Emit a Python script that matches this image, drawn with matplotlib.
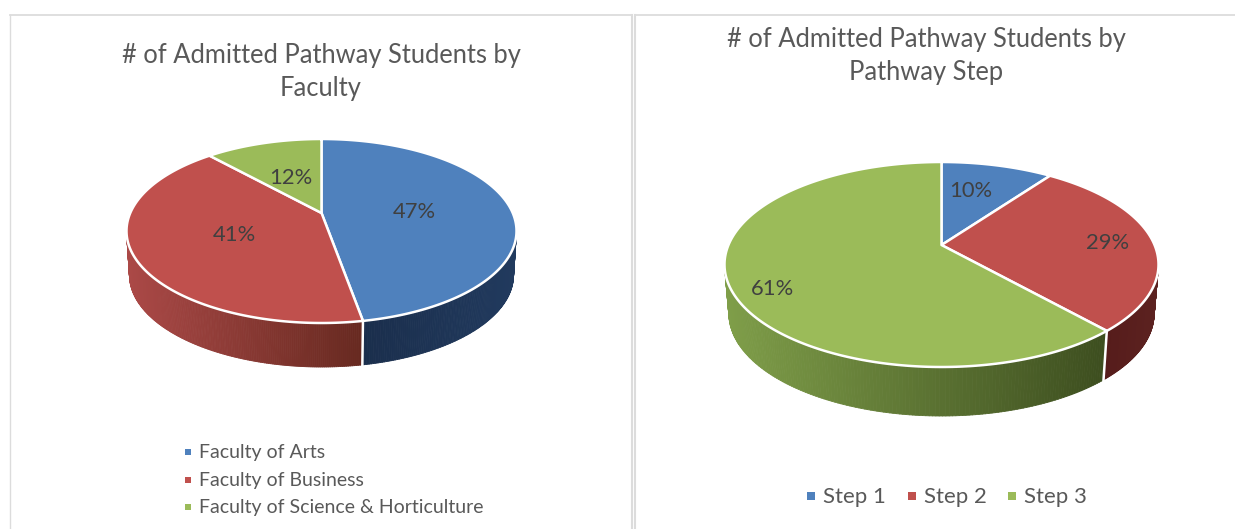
import numpy as np
import matplotlib
matplotlib.use("Agg")
import matplotlib.pyplot as plt
from matplotlib.colors import to_rgb
from matplotlib.collections import PolyCollection

plt.rcParams['font.family'] = ['Lato', 'DejaVu Sans']

# data, slice sizes, labels as printed on it
faculty_names = ['Faculty of Arts', 'Faculty of Business', 'Faculty of Science & Horticulture']
faculty_values = [47.2, 41.1, 11.7]
faculty_labels = ['47%', '41%', '12%']
step_names = ['Step 1', 'Step 2', 'Step 3']
step_values = [10.0, 28.4, 61.6]
step_labels = ['10%', '29%', '61%']

title_left = '# of Admitted Pathway Students by\nFaculty'
title_right = '# of Admitted Pathway Students by\nPathway Step'

BLUE = '#4f81bd'
RED = '#c0504d'
GREEN = '#9bbb59'
colors = [BLUE, RED, GREEN]

# wall colours, (left end, right end) of each visible stretch
walls_left = [('#1a2e4c', '#213a5e'), ('#ab4947', '#672920'), ('#000000', '#000000')]
walls_right = [('#000000', '#000000'), ('#561c1b', '#5c2220'), ('#7f9e49', '#3d4e1f')]


def project(theta, cx, cy, rx, ry, a):
    # clockwise from 12 o'clock, tilted disc so the centre sits above the ellipse middle
    u = np.sin(theta)
    v = -np.cos(theta)
    d = 1 + a * v
    return cx + rx * u * np.sqrt(1 - a * a) / d, cy + ry * (v + a) / d


def pie3d(ax, values, wall_cols, cx, cy, rx, ry, a, depth, shrink):
    edges = np.cumsum([0] + list(values)) / sum(values) * 2 * np.pi
    for i in range(len(values)):
        th = np.linspace(edges[i], edges[i + 1], 300)
        x, y = project(th, cx, cy, rx, ry, a)
        vis = y >= cy
        if vis.sum() > 1:
            xv, yv = x[vis], y[vis]
            xb = cx + (xv - cx) * shrink
            yb = yv + depth
            c0 = np.array(to_rgb(wall_cols[i][0]))
            c1 = np.array(to_rgb(wall_cols[i][1]))
            t = (xv - xv.min()) / (xv.max() - xv.min())
            polys = []
            cols = []
            for j in range(len(xv) - 1):
                polys.append([(xv[j], yv[j]), (xv[j + 1], yv[j + 1]), (xb[j + 1], yb[j + 1]), (xb[j], yb[j])])
                cols.append(c0 + (c1 - c0) * t[j])
            ax.add_collection(PolyCollection(polys, facecolors=cols, edgecolors=cols, linewidths=0.6, zorder=2))
    # seams on the wall
    for e in edges[:-1]:
        x, y = project(e, cx, cy, rx, ry, a)
        if y >= cy:
            ax.plot([x, cx + (x - cx) * shrink], [y, y + depth], color='white', lw=1.8, zorder=3)
    apex_y = cy + ry * a
    for i in range(len(values)):
        th = np.linspace(edges[i], edges[i + 1], 300)
        x, y = project(th, cx, cy, rx, ry, a)
        ax.fill(np.r_[cx, x], np.r_[apex_y, y], facecolor=colors[i], edgecolor='white',
                lw=1.8, joinstyle='round', zorder=4)


fig = plt.figure(figsize=(12.35, 5.29), dpi=100)
ax = fig.add_axes([0, 0, 1, 1])
ax.set_xlim(0, 1235)
ax.set_ylim(529, 0)
ax.axis('off')

# chart frames
frame = '#dcdcdc'
ax.plot([10, 10], [529, 14.5], color=frame, lw=1.0, zorder=1)
ax.plot([10, 632], [14.5, 14.5], color=frame, lw=1.3, zorder=1)
ax.plot([632, 632], [14.5, 529], color=frame, lw=1.5, zorder=1)
ax.plot([635, 635], [14.5, 529], color=frame, lw=1.5, zorder=1)
ax.plot([635, 1235], [14.5, 14.5], color=frame, lw=1.3, zorder=1)

pie3d(ax, faculty_values, walls_left, 321.5, 231, 195, 92, -0.196, 44, 0.985)
pie3d(ax, step_values, walls_right, 941.5, 264.5, 217, 102.5, -0.19, 49, 0.98)

# titles
ax.text(321, 72, title_left, ha='center', va='center', fontsize=18.4, color='#595959', linespacing=1.39)
ax.text(926, 56, title_right, ha='center', va='center', fontsize=18.4, color='#595959', linespacing=1.39)

# percent labels
label_color = '#404040'
for s, (x, y) in zip(faculty_labels, [(414, 212), (234, 235), (291, 178)]):
    ax.text(x, y, s, ha='center', va='center', fontsize=15.8, color=label_color, zorder=5)
for s, (x, y) in zip(step_labels, [(971, 191), (1108, 243), (772, 289)]):
    ax.text(x, y, s, ha='center', va='center', fontsize=15.8, color=label_color, zorder=5)

# legends
for name, c, y in zip(faculty_names, colors, [452, 480, 507]):
    ax.plot([187.5], [y], marker='s', ms=5, color=c, mew=0, ls='none')
    ax.text(199, y + 0.5, name, ha='left', va='center', fontsize=14, color='#595959')
for name, c, x in zip(step_names, colors, [811, 912, 1012]):
    ax.plot([x], [496], marker='s', ms=6, color=c, mew=0, ls='none')
    ax.text(x + 12, 497, name, ha='left', va='center', fontsize=16, color='#595959')

fig.savefig('out.png', dpi=100)
